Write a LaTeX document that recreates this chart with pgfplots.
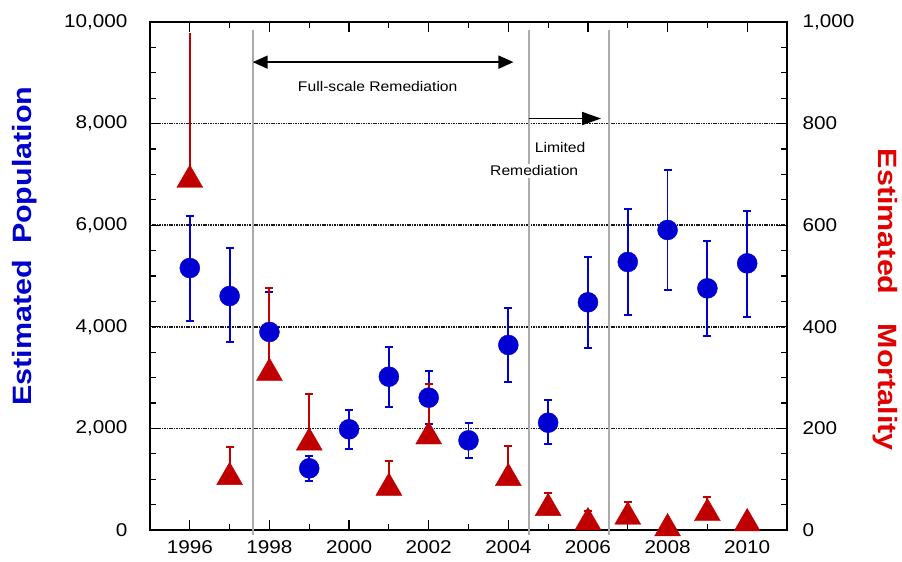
\documentclass[border=0pt]{standalone}
\usepackage{fontspec}
\setmainfont{Liberation Sans}[FakeStretch=1.12]
\newfontfamily\labelfont{Liberation Sans}[FakeStretch=1.15]
\usepackage{pgfplots}
\pgfplotsset{compat=1.18}
\usetikzlibrary{arrows.meta}
\definecolor{popblue}{RGB}{0,0,210}
\definecolor{mortred}{RGB}{192,0,0}
\definecolor{labred}{RGB}{225,0,0}
\definecolor{labblue}{RGB}{0,0,205}
\definecolor{vline}{RGB}{172,172,172}
\pgfplotstableread{
year pop ep em
1996 5157 1024 1043
1997 4606 945 906
1998 3898 793 798
1999 1214 243 243
2000 1982 380 388
2001 3018 590 590
2002 2605 525 518
2003 1765 348 348
2004 3642 735 729
2005 2112 447 413
2006 4482 898 906
2007 5276 1043 1044
2008 5906 1181 1188
2009 4757 932 938
2010 5249 1037 1050
}\poptable
\pgfplotstableread{
year mort ep
1997 104 59
1998 309 167
1999 172 95
2001 83 53
2002 184 103
2004 102 64
2005 43 29
2006 15 23
2007 26 30
2008 3 0
2009 33 32
2010 13 0
}\morttable
\begin{document}
\begin{tikzpicture}
\pgfplotsset{
  base/.style={
    scale only axis, width=637pt, height=508pt,
    at={(0pt,0pt)}, anchor=south west,
    xmin=1995, xmax=2011,
    axis line style={line width=1.2pt, black},
    every tick/.style={black, line width=1.2pt},
    major tick length=10pt, minor tick length=6pt,
    tick align=inside,
    scaled y ticks=false,
    /pgf/number format/assume math mode=true,
    tick label style={font=\fontsize{18.5}{22}\selectfont},
    yticklabel style={/pgf/number format/1000 sep={,}},
    clip=false,
  },
  popscale/.style={ymin=0, ymax=10000},
  mortscale/.style={ymin=0, ymax=1000},
}
% ---------- Frame, grid, right axis, annotations ----------
\begin{axis}[base, mortscale,
  ytick={0,200,...,1000}, minor y tick num=3,
  xtick={1996,1998,...,2010}, minor x tick num=1,
  xticklabel style={/pgf/number format/1000 sep={}, yshift=-7pt},
  ytick pos=right,
  yticklabel style={xshift=12pt},
  ymajorgrids,
  major grid style={black!90, line width=1.5pt, dash pattern=on 1.1pt off 0.6pt},
]
\draw[vline, line width=2pt] (axis cs:1997.58,984) -- (axis cs:1997.58,-10);
\draw[vline, line width=2pt] (axis cs:2004.51,984) -- (axis cs:2004.51,-10);
\draw[vline, line width=2pt] (axis cs:2006.53,984) -- (axis cs:2006.53,-10);
\draw[line width=1.6pt, {Triangle[length=15pt,width=13pt]}-{Triangle[length=15pt,width=13pt]}]
  (axis cs:1997.58,921) -- (axis cs:2004.13,921);
\draw[line width=1.6pt, -{Triangle[length=19pt,width=13pt]}]
  (axis cs:2004.51,810) -- (axis cs:2006.33,810);
\node[anchor=base, font=\fontsize{14}{16}\selectfont, inner sep=1pt] at (axis cs:2000.72,863) {Full-scale Remediation};
\node[anchor=base, font=\fontsize{14}{16}\selectfont, inner sep=1pt] at (axis cs:2005.30,743) {Limited};
\node[anchor=base, font=\fontsize{14}{16}\selectfont, fill=white, inner sep=2pt] at (axis cs:2004.65,697) {Remediation};
\node[rotate=-90, text=labred, font=\labelfont\bfseries\fontsize{26.5}{30}\selectfont]
  at (rel axis cs:1.154,0.453) {Estimated\hspace{1.1em}Mortality};
\end{axis}
% ---------- Left axis + population error bars ----------
\begin{axis}[base, popscale,
  axis y line*=left, axis x line=none,
  ytick={0,2000,...,10000}, minor y tick num=3,
  yticklabel style={xshift=-19pt},
]
\addplot[only marks, mark=none,
  error bars/.cd, y dir=both, y explicit,
  error bar style={line width=1.8pt, popblue},
  error mark options={popblue, line width=1.8pt, mark size=4pt, rotate=90}]
  table[x=year, y=pop, y error plus=ep, y error minus=em] {\poptable};
\node[rotate=90, text=labblue, font=\labelfont\bfseries\fontsize{26.5}{30}\selectfont]
  at (rel axis cs:-0.196,0.559) {Estimated\hspace{0.6em}Population};
\end{axis}
% ---------- Mortality markers ----------
\begin{axis}[base, mortscale, hide axis]
\addplot[only marks, mark=triangle*, mark size=15pt, mark options={fill=mortred, draw=mortred},
  error bars/.cd, y dir=plus, y explicit, error mark=none,
  error bar style={line width=2pt, mortred}]
  table[x=year, y=mort, y error plus=ep] {
year mort ep
1996 689 290
};
\addplot[only marks, mark=triangle*, mark size=15pt, mark options={fill=mortred, draw=mortred},
  error bars/.cd, y dir=plus, y explicit,
  error bar style={line width=2pt, mortred},
  error mark options={mortred, line width=2pt, mark size=4pt, rotate=90}]
  table[x=year, y=mort, y error plus=ep] {\morttable};
\end{axis}
% ---------- Population markers ----------
\begin{axis}[base, popscale, hide axis]
\addplot[only marks, mark=*, mark size=10pt, mark options={fill=popblue, draw=popblue}]
  table[x=year, y=pop] {\poptable};
\end{axis}
\pgfresetboundingbox
\path (-150pt,-32pt) rectangle (752pt,530pt);
\end{tikzpicture}
\end{document}
